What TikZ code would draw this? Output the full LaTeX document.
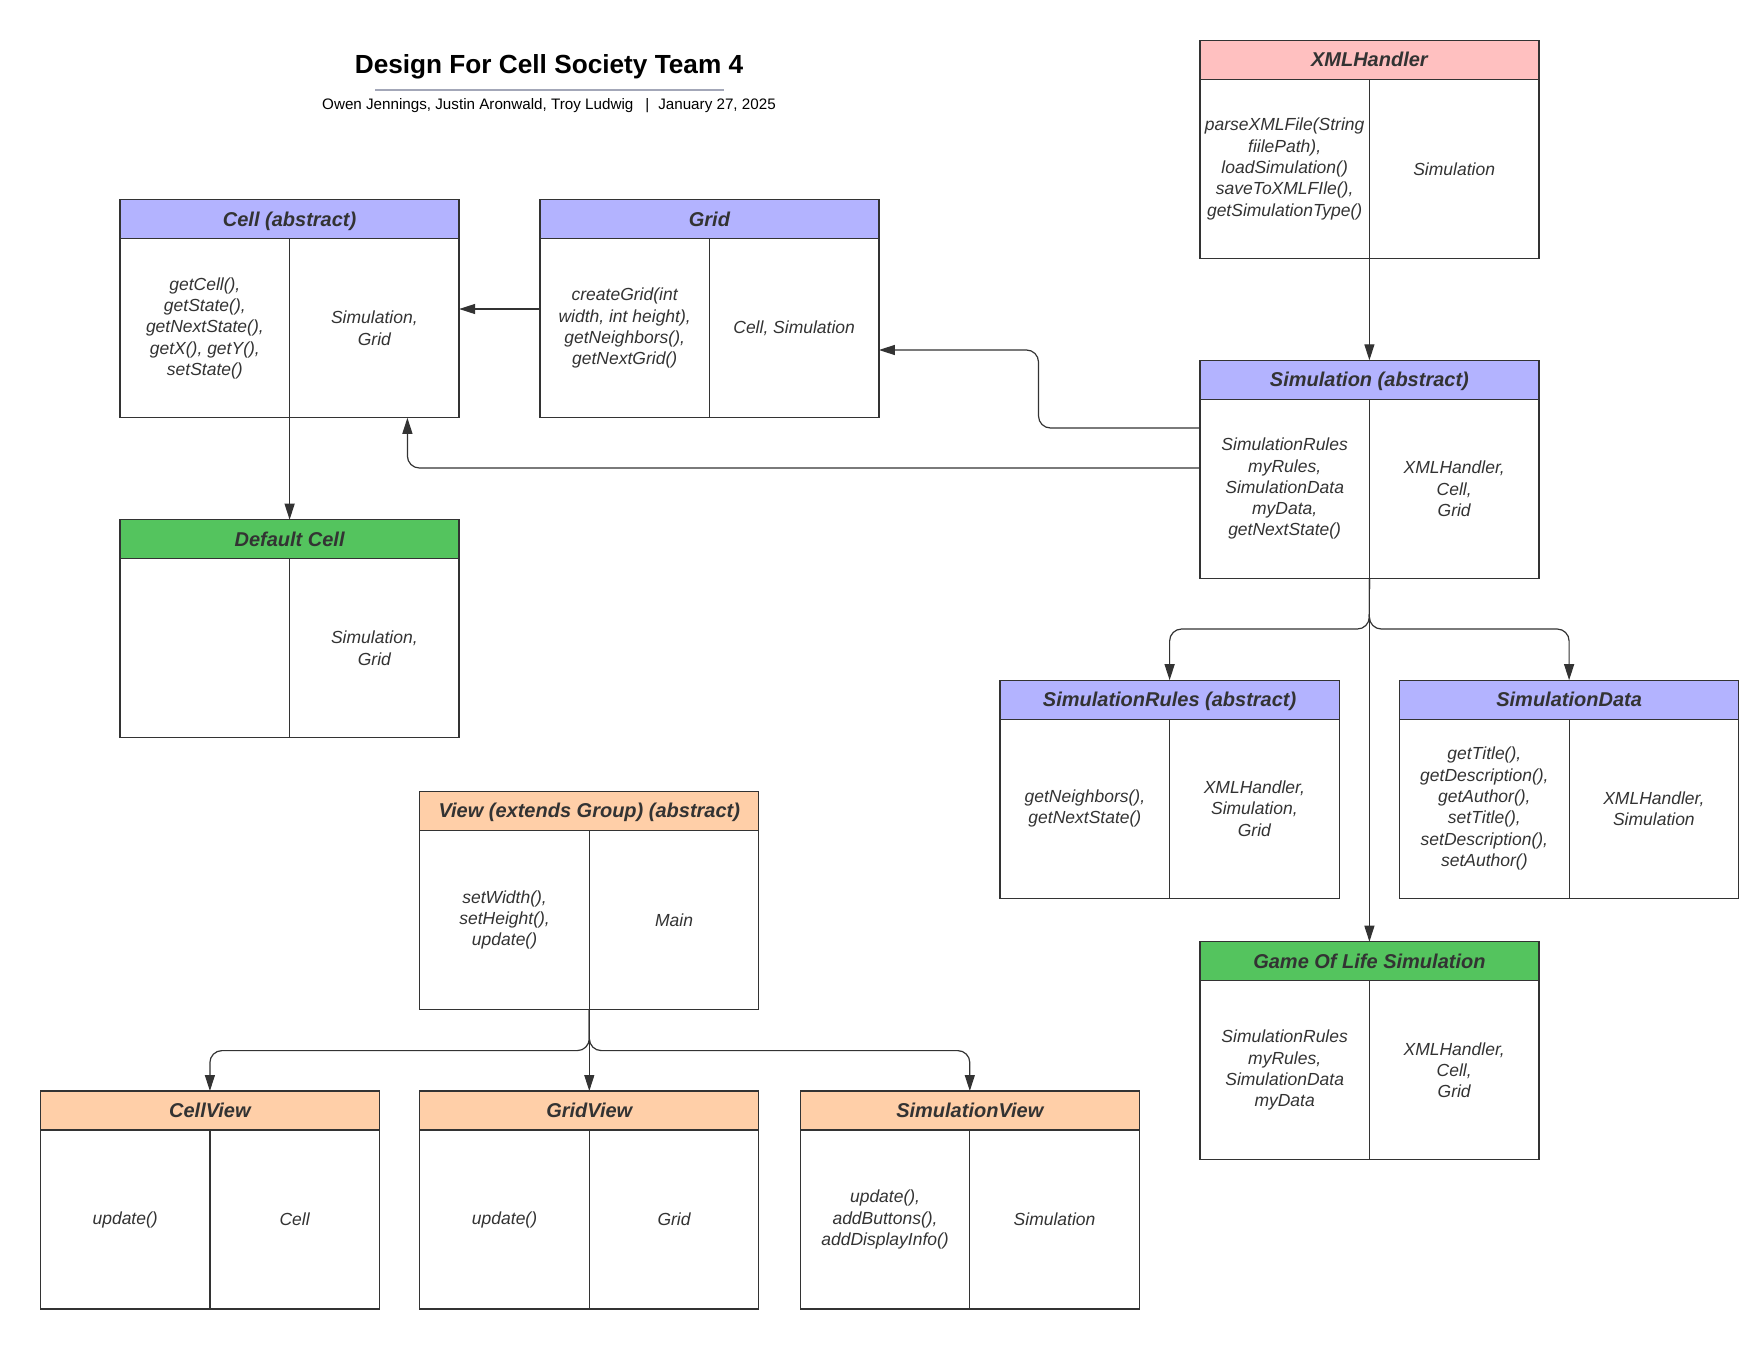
\documentclass[tikz,border=0pt]{standalone}
\usepackage{fontspec}
\setmainfont{Liberation Sans}
\usetikzlibrary{arrows.meta}
\definecolor{ink}{HTML}{333333}
\definecolor{hblue}{HTML}{B3B3FF}
\definecolor{hpink}{HTML}{FFC0C0}
\definecolor{hgreen}{HTML}{54C45E}
\definecolor{horange}{HTML}{FFCFA8}
\definecolor{rulecol}{HTML}{A3A7B8}
\tikzset{
  boxframe/.style={draw=none, minimum width=169.5pt, minimum height=109pt, inner sep=0pt, outer sep=0pt},
  boxhead/.style={draw=none, minimum width=169.5pt, minimum height=19.5pt, inner sep=0pt, outer sep=0pt, text height=7.3pt, text depth=0.4pt, font=\fontsize{10}{12}\selectfont\bfseries\itshape, text=ink},
  cellbox/.style={draw=none, minimum width=84.75pt, minimum height=89.5pt, inner sep=0pt, outer sep=0pt, align=center, font=\fontsize{8.75}{10.65}\selectfont\itshape, text=ink},
  boxline/.style={draw=ink, line width=0.62pt},
  conn/.style={draw=ink, line width=0.6pt, rounded corners=6pt},
  arr/.style={conn, -{Triangle[length=8pt,width=5pt]}},
  titletext/.style={font=\fontsize{13.1}{15}\selectfont\bfseries, text=black, inner sep=0pt},
  subtext/.style={font=\fontsize{7.6}{9}\selectfont, text=black, inner sep=0pt},
}
\newcommand\umlbox[7]{%
  \node[boxframe, anchor=north west] (#1) at (#2,#3) {};
  \node[boxhead, fill=#4, anchor=north west] (#1-h) at (#1.north west) {#5};
  \node[cellbox, anchor=north west] (#1-l) at (#1-h.south west) {#6};
  \node[cellbox, anchor=north east] (#1-r) at (#1-h.south east) {#7};
  \draw[boxline] (#1.north west) rectangle (#1.south east);
  \draw[boxline] (#1-h.south west) -- (#1-h.south east);
  \draw[boxline] (#1-l.north east) -- (#1-l.south east);
}
\begin{document}
\begin{tikzpicture}[x=0.5pt, y=-0.5pt]
\useasboundingbox[fill=white] (0,0) rectangle (1760,1360);

% title
\node[titletext] (title) at (549,66.5) {Design For Cell Society Team 4};
\coordinate (ulA) at (375,89.7);
\coordinate (ulB) at (724,89.7);
\draw[rulecol, line width=1pt] (ulA) -- (ulB);
\node[subtext] (sub) at (549,105.6) {Owen Jennings, Justin Aronwald, Troy Ludwig\hspace{6pt}|\hspace{4.5pt}January 27, 2025};

% boxes
\umlbox{cell}{120.1}{199.8}{hblue}{Cell (abstract)}{getCell(),\\getState(),\\getNextState(),\\getX(), getY(),\\setState()}{Simulation,\\Grid}
\umlbox{grid}{539.9}{199.8}{hblue}{Grid}{createGrid(int\\width, int height),\\getNeighbors(),\\getNextGrid()}{Cell, Simulation}
\umlbox{xml}{1199.9}{40.4}{hpink}{XMLHandler}{parseXMLFile(String\\fiilePath),\\loadSimulation()\\saveToXMLFIle(),\\getSimulationType()}{Simulation}
\umlbox{sim}{1199.9}{360.3}{hblue}{Simulation (abstract)}{SimulationRules\\myRules,\\SimulationData\\myData,\\getNextState()}{XMLHandler,\\Cell,\\Grid}
\umlbox{dcell}{120.1}{519.7}{hgreen}{Default Cell}{}{Simulation,\\Grid}
\umlbox{srules}{1000.1}{680.2}{hblue}{SimulationRules (abstract)}{getNeighbors(),\\getNextState()}{XMLHandler,\\Simulation,\\Grid}
\umlbox{sdata}{1399.6}{680.2}{hblue}{SimulationData}{getTitle(),\\getDescription(),\\getAuthor(),\\setTitle(),\\setDescription(),\\setAuthor()}{XMLHandler,\\Simulation}
\umlbox{gol}{1199.9}{941.7}{hgreen}{Game Of Life Simulation}{SimulationRules\\myRules,\\SimulationData\\myData}{XMLHandler,\\Cell,\\Grid}
\umlbox{view}{419.8}{791.3}{horange}{View (extends Group) (abstract)}{setWidth(),\\setHeight(),\\update()}{Main}
\umlbox{cview}{40.4}{1091}{horange}{CellView}{update()}{Cell}
\umlbox{gview}{419.8}{1091}{horange}{GridView}{update()}{Grid}
\umlbox{sview}{800.3}{1091}{horange}{SimulationView}{update(),\\addButtons(),\\addDisplayInfo()}{Simulation}

% connectors
\draw[arr] (grid.west |- 0,309) -- (cell.east |- 0,309);
\coordinate (sgA) at (1038.5,428);
\coordinate (sgB) at (1038.5,350);
\draw[arr] (sim.west |- sgA) -- (sgA) -- (sgB) -- (grid.east |- sgB);
\coordinate (scA) at (407.4,468);
\draw[arr] (sim.west |- scA) -- (scA) -- (cell.south -| scA);
\draw[arr] (cell.south) -- (dcell.north);
\draw[arr] (xml.south) -- (sim.north);

\coordinate (br) at (1369.3,629);
\draw[arr] (sim.south) -- (br) -- (srules.north |- br) -- (srules.north);
\draw[arr] (sim.south) -- (br) -- (sdata.north |- br) -- (sdata.north);
\draw[arr] (sim.south) -- (gol.north);

\coordinate (vb) at (589.3,1050.6);
\draw[arr] (view.south) -- (vb) -- (cview.north |- vb) -- (cview.north);
\draw[arr] (view.south) -- (vb) -- (sview.north |- vb) -- (sview.north);
\draw[arr] (view.south) -- (gview.north);
\end{tikzpicture}
\end{document}
